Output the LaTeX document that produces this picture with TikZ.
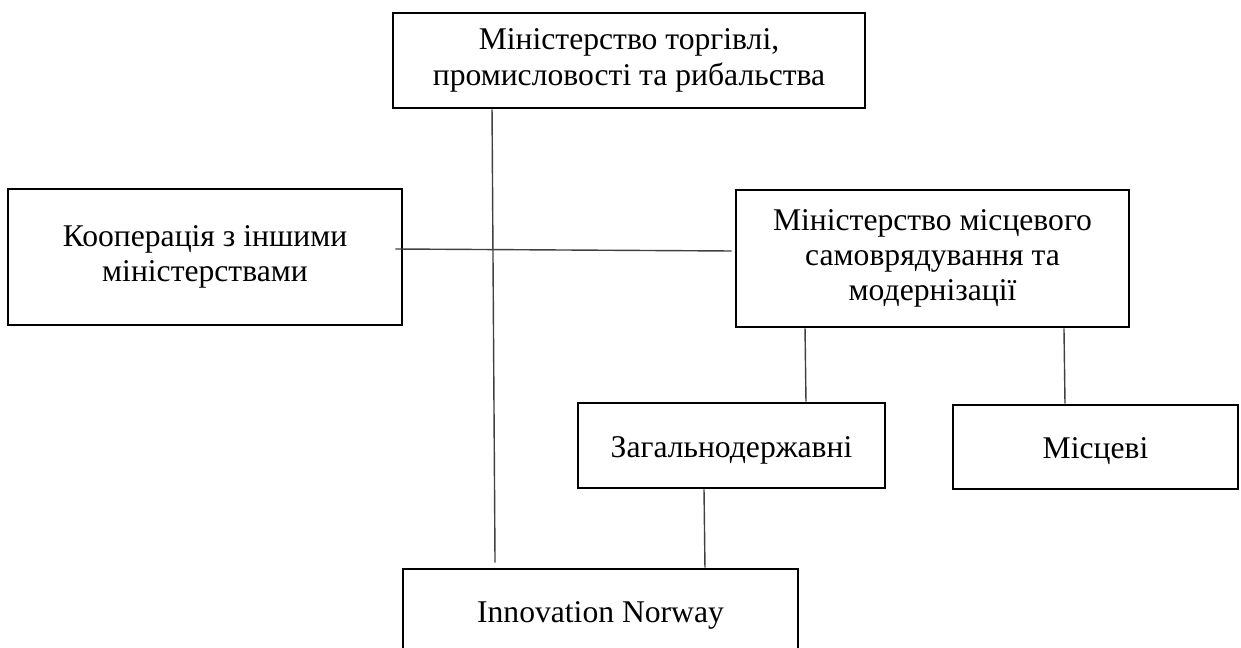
\documentclass[tikz,border=0pt]{standalone}
\usepackage{fontspec}
\setmainfont{Liberation Serif}

\begin{document}
\begin{tikzpicture}[x=0.02cm,y=-0.02cm,
  box/.style={draw,line width=1.6pt,align=center,inner sep=0pt,
    font=\fontsize{18}{20}\selectfont,
    execute at begin node={\rule{0pt}{17.6pt}},
    execute at end node={\rule[-4pt]{0pt}{4pt}}},
  link/.style={draw=black!75,line width=0.8pt}]
  \useasboundingbox (0,0) rectangle (1241,648);
  \clip (0,0) rectangle (1241,648);

  \node[box,minimum width=9.44cm,minimum height=1.9cm] (torg) at (629,60.5)
    {Міністерство торгівлі,\\промисловості та рибальства};
  \node[box,minimum width=7.88cm,minimum height=2.72cm] (koop) at (205,257)
    {Кооперація з іншими\\міністерствами};
  \node[box,minimum width=7.86cm,minimum height=2.74cm] (samovr) at (932.5,258.5)
    {Міністерство місцевого\\самоврядування та\\модернізації};
  \node[box,minimum width=6.14cm,minimum height=1.7cm] (zag) at (731.5,445.5)
    {Загальнодержавні};
  \node[box,minimum width=5.7cm,minimum height=1.68cm] (misc) at (1095.5,447)
    {Місцеві};
  \node[box,minimum width=7.9cm,minimum height=1.66cm] (innov) at (600.5,610.5)
    {Innovation Norway};

  \draw[link] ([xshift=-2.74cm]torg.south) -- ([xshift=-2.11cm,yshift=0.1cm]innov.north);
  \draw[link] ([xshift=-0.16cm,yshift=0.16cm]koop.east) -- ([xshift=-0.06cm,yshift=0.15cm]samovr.west);
  \draw[link] ([xshift=-2.55cm]samovr.south) -- ([xshift=1.49cm]zag.north);
  \draw[link] ([xshift=2.63cm]samovr.south) -- ([xshift=-0.61cm]misc.north);
  \draw[link] ([xshift=-0.55cm]zag.south) -- ([xshift=2.09cm]innov.north);

\end{tikzpicture}
\end{document}
